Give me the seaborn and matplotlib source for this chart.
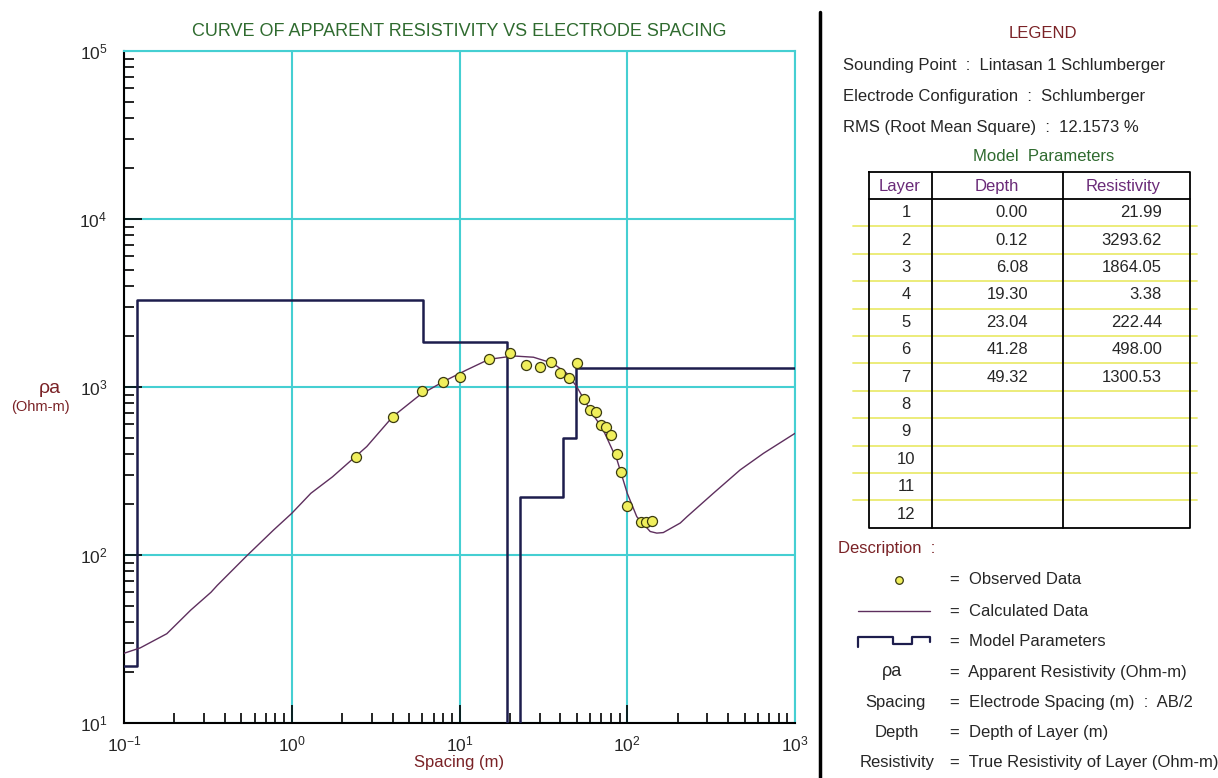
import numpy as np
import pandas as pd
import matplotlib
import matplotlib.pyplot as plt
import matplotlib.ticker as mticker
from matplotlib import font_manager
import seaborn as sns

# observed apparent resistivity (AB/2 in m, rho_a in Ohm-m)
obs_spacing = [2.4, 4.0, 6.0, 8.0, 10, 15, 20, 25, 30, 35, 40, 45, 50, 55, 60,
               65, 70, 75, 80, 87, 92, 100, 120, 130, 140]
obs_rho = [382, 660, 946, 1075, 1147, 1468, 1600, 1347, 1315, 1403, 1207, 1127,
           1384, 845, 727, 710, 597, 581, 518, 397, 313, 197, 158, 157, 159]

# calculated curve
calc_spacing = [0.1, 0.125, 0.18, 0.25, 0.33, 0.36, 0.54, 0.78, 1.0, 1.3, 1.75,
                2.8, 4.0, 5.8, 8.0, 11, 15, 21, 27.6, 36, 43.6, 50, 60, 72, 87,
                100, 114, 137, 150, 164, 207, 227, 326, 471, 649, 1000]
calc_rho = [26, 28, 34, 47, 60, 66, 99, 141, 177, 233, 292, 442, 666, 896, 1076,
            1262, 1462, 1530, 1504, 1384, 1207, 1004, 730, 554, 367, 233, 169,
            138, 135, 136, 155, 169, 233, 321, 403, 530]

# model parameters
layers = [1, 2, 3, 4, 5, 6, 7]
depths = [0.00, 0.12, 6.08, 19.30, 23.04, 41.28, 49.32]
resist = [21.99, 3293.62, 1864.05, 3.38, 222.44, 498.00, 1300.53]

x_min, x_max = 0.1, 1000

sns.set_style("ticks")
avail = {f.name for f in font_manager.fontManager.ttflist}
narrow = "Liberation Sans Narrow" if "Liberation Sans Narrow" in avail else "Liberation Sans"
plt.rcParams["font.family"] = [narrow, "DejaVu Sans"]
plt.rcParams["mathtext.fontset"] = "custom"
plt.rcParams["mathtext.rm"] = narrow

cyan = "#45cfd2"
dred = "#7a2226"
green = "#2f6b2f"
purple = "#6a2a78"

fig = plt.figure(figsize=(12.18, 7.78), dpi=100)
ax = fig.add_axes([124 / 1218, 55 / 778, 671 / 1218, 672 / 778])

# model step line
step_x = [x_min] + depths[1:] + [x_max]
step_y = resist + [resist[-1]]
model = pd.DataFrame({"x": step_x, "y": step_y})
ax.step(model["x"], model["y"], where="post", color="#1d1d4d", lw=1.8, zorder=3)

calc = pd.DataFrame({"spacing": calc_spacing, "rho": calc_rho})
sns.lineplot(data=calc, x="spacing", y="rho", ax=ax, color="#5e2f5e", lw=1.0,
             sort=False, estimator=None, zorder=4)

obs = pd.DataFrame({"spacing": obs_spacing, "rho": obs_rho})
sns.scatterplot(data=obs, x="spacing", y="rho", ax=ax, marker="o", s=52,
                color="#f0ef5c", edgecolor="#3a3a10", linewidth=0.9, zorder=5)

ax.set_xscale("log")
ax.set_yscale("log")
ax.set_xlim(x_min, x_max)
ax.set_ylim(10, 1e5)
ax.xaxis.set_major_locator(mticker.LogLocator(base=10, numticks=10))
ax.yaxis.set_major_locator(mticker.LogLocator(base=10, numticks=10))
ax.xaxis.set_minor_locator(mticker.LogLocator(base=10, subs=np.arange(2, 10), numticks=20))
ax.yaxis.set_minor_locator(mticker.LogLocator(base=10, subs=np.arange(2, 10), numticks=20))
ax.xaxis.set_minor_formatter(mticker.NullFormatter())
ax.yaxis.set_minor_formatter(mticker.NullFormatter())

ax.grid(True, which="major", color=cyan, lw=1.5)
ax.tick_params(which="both", direction="in", top=False, right=False, color="black",
               labelsize=12.5)
ax.tick_params(which="major", length=13, width=1.2)
ax.tick_params(which="minor", length=7, width=1.2)
ax.tick_params(axis="x", which="major", pad=8)
ax.tick_params(axis="y", which="major", pad=12)
for s in ["left", "bottom"]:
    ax.spines[s].set_color("black")
    ax.spines[s].set_linewidth(1.5)
for s in ["top", "right"]:
    ax.spines[s].set_color(cyan)
    ax.spines[s].set_linewidth(1.5)

ax.set_xlabel("Spacing (m)", color=dred, fontsize=12, labelpad=1)
ax.set_ylabel("")
ax.set_title("CURVE OF APPARENT RESISTIVITY VS ELECTRODE SPACING", color=green,
             fontsize=13, pad=11)
fig.text(50 / 1218, 1 - 388 / 778, "ρa", color=dred, fontsize=14, ha="center", va="center")
fig.text(40 / 1218, 1 - 407 / 778, "(Ohm-m)", color=dred, fontsize=10.5, ha="center", va="center")

# separator
fig.add_artist(plt.Line2D([820 / 1218, 820 / 1218], [0, 1 - 12 / 778], color="black",
                          lw=2.5, transform=fig.transFigure))

# right panel in pixel coordinates
pa = fig.add_axes([822 / 1218, 0, 396 / 1218, 1])
pa.set_xlim(822, 1218)
pa.set_ylim(778, 0)
pa.axis("off")

fs = 12
pa.text(1043, 33, "LEGEND", color=dred, fontsize=fs, ha="center", va="center")
pa.text(843, 65, "Sounding Point  :  Lintasan 1 Schlumberger", fontsize=fs, va="center")
pa.text(843, 96, "Electrode Configuration  :  Schlumberger", fontsize=fs, va="center")
pa.text(843, 127, "RMS (Root Mean Square)  :  12.1573 %", fontsize=fs, va="center")
pa.text(1044, 156, "Model  Parameters", color=green, fontsize=fs, ha="center", va="center")

# table
t_left, t_right, t_top, h_bot = 869, 1190, 172, 199
row_h = 27.4
n_rows = 12
t_bot = h_bot + n_rows * row_h
c1, c2 = 932, 1063
for i in range(1, n_rows):
    yy = h_bot + i * row_h
    pa.plot([853, 1197], [yy, yy], color="#eaea70", lw=1.3, zorder=1)
pa.plot([t_left, t_right, t_right, t_left, t_left], [t_top, t_top, t_bot, t_bot, t_top],
        color="black", lw=1.3, zorder=2)
pa.plot([t_left, t_right], [h_bot, h_bot], color="black", lw=1.3, zorder=2)
pa.plot([c1, c1], [t_top, t_bot], color="black", lw=1.3, zorder=2)
pa.plot([c2, c2], [t_top, t_bot], color="black", lw=1.3, zorder=2)
pa.text(900, 186, "Layer", color=purple, fontsize=fs, ha="center", va="center")
pa.text(997, 186, "Depth", color=purple, fontsize=fs, ha="center", va="center")
pa.text(1123, 186, "Resistivity", color=purple, fontsize=fs, ha="center", va="center")
for i in range(n_rows):
    yy = h_bot + (i + 0.5) * row_h
    pa.text(906, yy, str(i + 1), fontsize=fs, ha="center", va="center")
    if i < len(layers):
        pa.text(1028, yy, f"{depths[i]:.2f}", fontsize=fs, ha="right", va="center")
        pa.text(1162, yy, f"{resist[i]:.2f}", fontsize=fs, ha="right", va="center")

# description
pa.text(838, 549, "Description  :", color=dred, fontsize=fs, va="center")
desc = ["Observed Data", "Calculated Data", "Model Parameters",
        "Apparent Resistivity (Ohm-m)", "Electrode Spacing (m)  :  AB/2",
        "Depth of Layer (m)", "True Resistivity of Layer (Ohm-m)"]
ys = [580, 611, 641, 672, 702, 733, 763]
for y, d in zip(ys, desc):
    pa.text(950, y, "=  " + d, fontsize=fs, va="center")
pa.scatter([899], [580], s=30, marker="o", color="#f0ef5c", edgecolor="#3a3a10", lw=0.9)
pa.plot([858, 930], [611, 611], color="#5e2f5e", lw=1.0)
pa.plot([858, 858, 893, 893, 912, 912, 930, 930],
        [647, 637, 637, 644, 644, 637, 637, 642], color="#1d1d4d", lw=1.6)
pa.text(892, 672, "ρa", fontsize=fs + 1, ha="center", va="center")
pa.text(895, 702, "Spacing", fontsize=fs, ha="center", va="center")
pa.text(897, 733, "Depth", fontsize=fs, ha="center", va="center")
pa.text(897, 763, "Resistivity", fontsize=fs, ha="center", va="center")

fig.savefig("out.png", dpi=100)
